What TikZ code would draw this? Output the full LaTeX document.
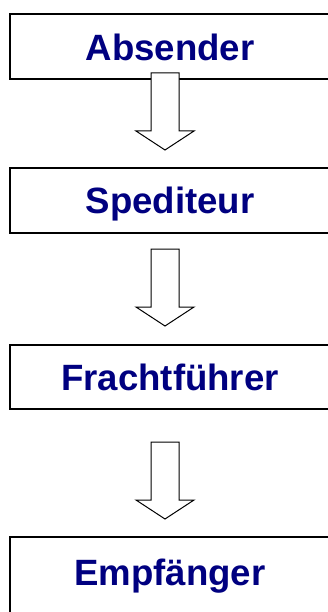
\documentclass[tikz,border=0pt]{standalone}
\usepackage{fontspec}
\setmainfont{Liberation Sans}
\definecolor{navy}{RGB}{0,0,128}
\tikzset{
	kasten/.style={draw=black, line width=2pt},
	beschriftung/.style={anchor=base, inner sep=0pt, text=navy, font=\fontsize{36.6}{40}\selectfont\bfseries},
	pfeil/.style={draw=black, line width=1pt, fill=white, line join=miter}
}
\begin{document}
\begin{tikzpicture}[x=1pt,y=-1pt]
	\useasboundingbox (0,0) rectangle (327,612);
	% Kaesten
	\draw[kasten] (10,14) rectangle (330,79);
	\draw[kasten] (10,168) rectangle (330,233);
	\draw[kasten] (10,345) rectangle (330,409);
	\draw[kasten] (10,537) rectangle (330,640);
	% Beschriftungen
	\node[beschriftung] (absender) at (170,61) {Absender};
	\node[beschriftung] (spediteur) at (170,214) {Spediteur};
	\node[beschriftung] (frachtfuehrer) at (170,390.5) {Frachtführer};
	\node[beschriftung] (empfaenger) at (170,585) {Empfänger};
	% Pfeile
	\foreach \y in {73,249,442}
		\draw[pfeil] (151,\y) -- (151,\y+58) -- (136,\y+58) -- (165,\y+77) -- (194,\y+58) -- (179,\y+58) -- (179,\y) -- cycle;
\end{tikzpicture}
\end{document}
